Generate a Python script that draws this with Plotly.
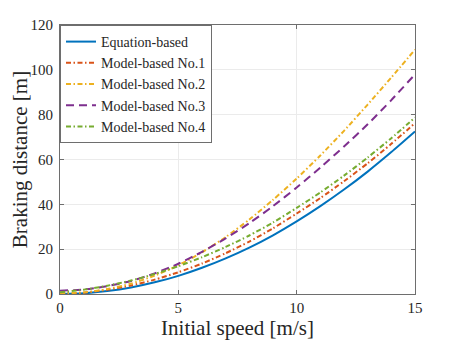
import plotly.graph_objects as go

# initial speed [m/s]
speed = list(range(16))

# braking distance [m]
equation_based = [0, 0.3, 1.3, 2.9, 5.2, 8.1, 11.7, 15.9, 20.7, 26.2, 32.4, 39.2, 46.6, 54.6, 63.3, 72.5]
model_no1 = [0, 0.6, 1.9, 3.8, 6.4, 9.7, 13.6, 18.2, 23.4, 29.3, 35.9, 42.8, 50.3, 58.3, 67.0, 76.2]
model_no2 = [0.2, 0.7, 2.2, 4.6, 8.2, 12.8, 18.6, 25.4, 33.2, 42.0, 51.5, 61.8, 72.8, 84.5, 96.6, 109.0]
model_no3 = [1.5, 2.0, 3.5, 5.8, 9.2, 13.5, 18.8, 24.8, 31.6, 39.2, 47.5, 56.4, 65.8, 75.7, 86.5, 98.0]
model_no4 = [0.8, 1.9, 3.7, 6.0, 8.9, 12.4, 16.4, 21.0, 26.1, 31.9, 38.4, 45.3, 52.8, 60.9, 69.5, 78.7]

x_ticks = [0, 5, 10, 15]
y_ticks = [0, 20, 40, 60, 80, 100, 120]

series = [
    ("Equation-based", equation_based, "#0072BD", "solid"),
    ("Model-based No.1", model_no1, "#D95319", "5px,2.5px,1.5px,2.5px"),
    ("Model-based No.2", model_no2, "#EDB120", "5px,2.5px,1.5px,2.5px"),
    ("Model-based No.3", model_no3, "#7E2F8E", "8px,5px"),
    ("Model-based No.4", model_no4, "#77AC30", "5px,2.5px,1.5px,2.5px"),
]

fig = go.Figure()
for name, vals, color, dash in series:
    fig.add_trace(go.Scatter(
        x=speed, y=vals, mode="lines", name=name,
        line=dict(color=color, width=2, dash=dash, shape="spline", smoothing=0.6),
    ))

serif = "Liberation Serif, DejaVu Serif, serif"
axis_common = dict(
    showline=True, linecolor="#6e6e6e", linewidth=1, mirror="allticks",
    ticks="inside", ticklen=4, tickcolor="#6e6e6e",
    showgrid=True, gridcolor="#ebebeb", gridwidth=1, zeroline=False,
    tickfont=dict(family=serif, size=15, color="#262626"),
    automargin=False,
)

fig.update_xaxes(
    range=[0, 15], tickvals=x_ticks,
    title=dict(text="Initial speed [m/s]", font=dict(family=serif, size=21, color="#262626"), standoff=0),
    **axis_common,
)
fig.update_yaxes(
    range=[0, 120], tickvals=y_ticks, ticklabelstandoff=3,
    title=dict(text="Braking distance [m]", font=dict(family=serif, size=21, color="#262626"), standoff=6),
    **axis_common,
)

# the page adds an 8px body margin, so the figure is sized to fit inside the window
fig.update_layout(
    width=450, height=335,
    margin=dict(l=52, r=43, t=17, b=49),
    plot_bgcolor="white", paper_bgcolor="white",
    legend=dict(
        x=0, y=1, xanchor="left", yanchor="top",
        bgcolor="white", bordercolor="#6e6e6e", borderwidth=1,
        font=dict(family=serif, size=14, color="#262626"),
        tracegroupgap=0, itemwidth=30,
    ),
)

fig.write_html("out.html")
